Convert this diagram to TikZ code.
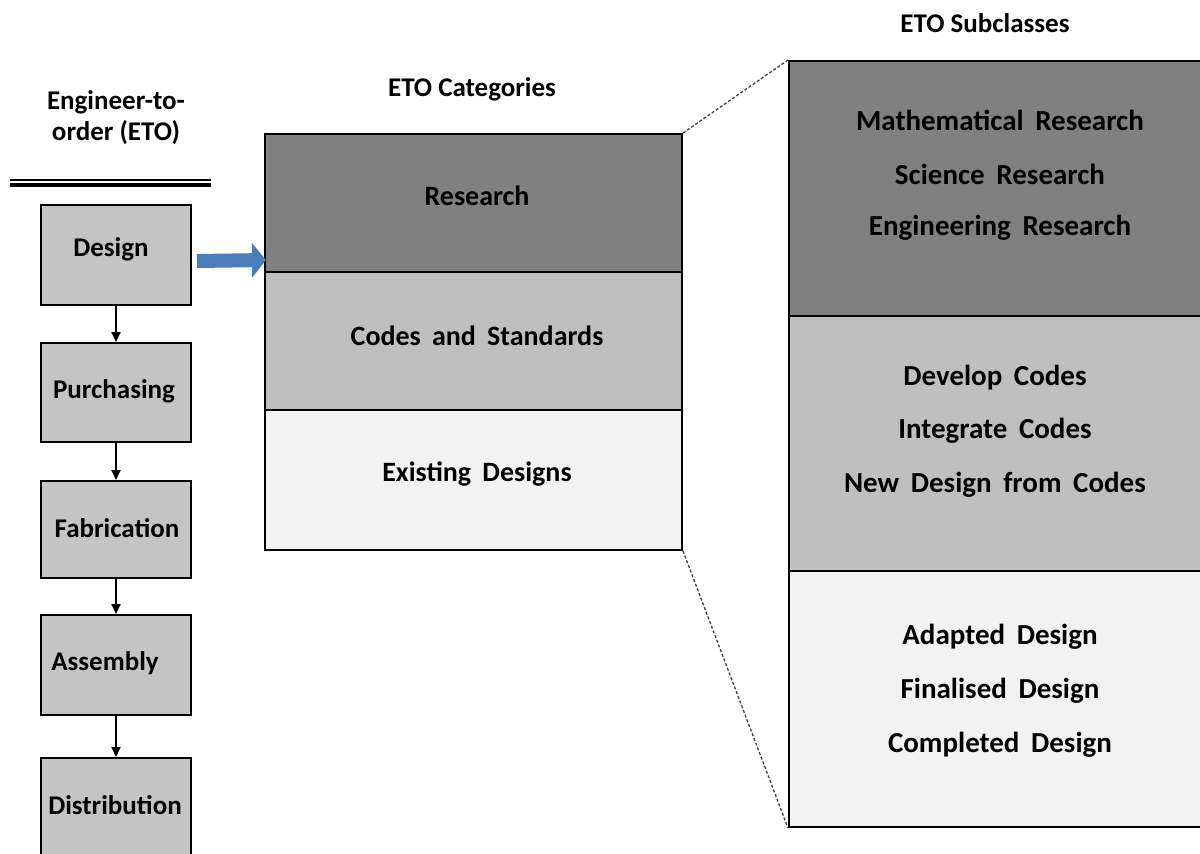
\documentclass[tikz,border=0pt]{standalone}
\usepackage{fontspec}
\setmainfont{Carlito}
\usetikzlibrary{arrows.meta,calc}
\definecolor{dark}{RGB}{128,128,128}
\definecolor{mid}{RGB}{191,191,191}
\definecolor{light}{RGB}{242,242,242}
\definecolor{lbox}{RGB}{196,196,196}
\definecolor{arrowblue}{RGB}{74,126,187}
\newcommand\mywidesp{\spaceskip=0.4em plus 0.1em\relax}
\tikzset{
  stepbox/.style={draw=black, line width=2pt, fill=lbox, minimum width=150pt, inner sep=0pt},
  band/.style={draw=black, line width=2pt, inner sep=0pt},
  lbl/.style={font=\fontsize{27}{32}\selectfont\bfseries, inner sep=0pt},
  mlbl/.style={font=\fontsize{28}{33}\selectfont\bfseries\mywidesp, inner sep=0pt},
  rlbl/.style={font=\fontsize{29}{34}\selectfont\bfseries\mywidesp, inner sep=0pt},
  flow/.style={-{Triangle[length=10pt,width=9pt]}, line width=1.8pt},
  zoomline/.style={densely dashed, line width=1.3pt, draw=black!75}
}
\begin{document}
\begin{tikzpicture}[x=1pt,y=-1pt]
\useasboundingbox (0,0) rectangle (1200,854);
\fill[white] (0,0) rectangle (1200,854);
\begin{scope}
\clip (0,0) rectangle (1200,854);
% titles
\node[lbl, align=center, font=\fontsize{27}{31}\selectfont\bfseries] (etotitle) at (116,118) {Engineer-to-\\order (ETO)};
\node[lbl] (cattitle) at (472,89) {ETO Categories};
\node[lbl] (subtitle) at (985,23) {ETO Subclasses};
% double rule
\draw[line width=1.5pt] (10,180) coordinate (r1a) -- (211,180) coordinate (r1b);
\draw[line width=3.5pt] (10,185) coordinate (r2a) -- (211,185) coordinate (r2b);
% left process boxes
\node[stepbox, minimum height=100pt] (design) at (116,255) {};
\node[stepbox, minimum height=99pt] (purch) at (116,392.5) {};
\node[stepbox, minimum height=97pt] (fab) at (116,529.5) {};
\node[stepbox, minimum height=100pt] (assem) at (116,665) {};
\node[stepbox, minimum height=120pt] (distr) at (116,818) {};
\node[lbl] at (111,249) {Design};
\node[lbl] at (114,391) {Purchasing};
\node[lbl] at (117,528) {Fabrication};
\node[lbl] at (105,663) {Assembly};
\node[lbl] at (115,805) {Distribution};
\draw[flow] (design.south) -- (purch.north);
\draw[flow] (purch.south) -- (fab.north);
\draw[flow] (fab.south) -- (assem.north);
\draw[flow] (assem.south) -- (distr.north);
% category bands
\node[band, fill=dark, minimum width=417pt, minimum height=138pt] (research) at (473.5,203) {};
\node[band, fill=mid, minimum width=417pt, minimum height=138pt] (codes) at (473.5,341) {};
\node[band, fill=light, minimum width=417pt, minimum height=140pt] (exist) at (473.5,480) {};
\node[mlbl] at (477,196) {Research};
\node[mlbl] at (477,336) {Codes and Standards};
\node[mlbl] at (477,474) {Existing Designs};
% blue arrow
\draw[-{Triangle[length=14pt,width=34pt]}, line width=14pt, draw=arrowblue, fill=arrowblue]
  ($(design.east)+(5,6)$) -- ($(research.west)+(2,57)$);
% subclass bands
\node[band, fill=dark, minimum width=430pt, minimum height=255pt] (sresearch) at (1004,188.5) {};
\node[band, fill=mid, minimum width=430pt, minimum height=255pt] (scodes) at (1004,443.5) {};
\node[band, fill=light, minimum width=430pt, minimum height=256pt] (sexist) at (1004,699) {};
\node[rlbl] at (1000,120) {Mathematical Research};
\node[rlbl] at (1000,174) {Science Research};
\node[rlbl] at (1000,228) {Engineering Research};
\node[rlbl] at (995,378) {Develop Codes};
\node[rlbl] at (995,431) {Integrate Codes};
\node[rlbl] at (995,485) {New Design from Codes};
\node[rlbl] at (1000,637) {Adapted Design};
\node[rlbl] at (1000,691) {Finalised Design};
\node[rlbl] at (1000,745) {Completed Design};
% zoom lines
\draw[zoomline] (research.north east) -- (sresearch.north west);
\draw[zoomline] (exist.south east) -- (sexist.south west);
\end{scope}
\end{tikzpicture}
\end{document}
